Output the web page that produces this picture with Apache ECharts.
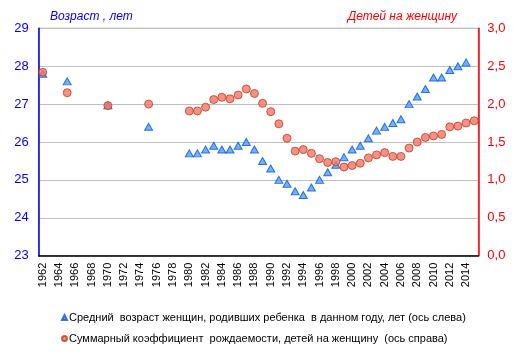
<!DOCTYPE html>
<html>
<head>
<meta charset="utf-8">
<script src="https://cdn.jsdelivr.net/npm/echarts@6/dist/echarts.min.js"></script>
<style>html,body{margin:0;padding:0;background:#fff;}#c{width:514px;height:355px;}</style>
</head>
<body>
<div id="c"></div>
<script>
const years = [];
for (let y = 1962; y <= 2015; y++) years.push(String(y));

// Values keyed by year
const ageYears = [1962,1965,1970,1975,1980,1981,1982,1983,1984,1985,1986,1987,1988,1989,1990,1991,1992,1993,1994,1995,1996,1997,1998,1999,2000,2001,2002,2003,2004,2005,2006,2007,2008,2009,2010,2011,2012,2013,2014];
const ageValues = [27.8,27.6,26.97,26.4,25.7,25.7,25.8,25.9,25.8,25.8,25.9,26.0,25.8,25.5,25.3,25.0,24.9,24.7,24.6,24.8,25.0,25.2,25.4,25.6,25.8,25.9,26.1,26.3,26.4,26.5,26.6,27.0,27.2,27.4,27.7,27.7,27.9,28.0,28.1];

const tfrYears = [1962,1965,1970,1975,1980,1981,1982,1983,1984,1985,1986,1987,1988,1989,1990,1991,1992,1993,1994,1995,1996,1997,1998,1999,2000,2001,2002,2003,2004,2005,2006,2007,2008,2009,2010,2011,2012,2013,2014,2015];
const tfrValues = [2.42,2.15,1.98,2.00,1.91,1.91,1.96,2.06,2.09,2.07,2.12,2.20,2.14,2.01,1.90,1.74,1.55,1.38,1.40,1.35,1.28,1.23,1.24,1.17,1.19,1.22,1.29,1.33,1.36,1.31,1.31,1.42,1.50,1.56,1.58,1.60,1.70,1.71,1.75,1.78];

const leftTicks = [23,24,25,26,27,28,29];
const rightTicks = ['0,0','0,5','1,0','1,5','2,0','2,5','3,0'];

const seriesNames = [
  'Средний  возраст женщин, родивших ребенка  в данном году, лет (ось слева)',
  'Суммарный коэффициент  рождаемости, детей на женщину  (ось справа)'
];
const axisTitles = ['Возраст , лет', 'Детей на женщину'];

const ageData = ageYears.map((y, i) => [String(y), ageValues[i]]);
const tfrData = tfrYears.map((y, i) => [String(y), tfrValues[i]]);

const FONT = '"Liberation Sans", Arial, sans-serif';
const chart = echarts.init(document.getElementById('c'), null, {renderer: 'canvas'});
chart.setOption({
  animation: false,
  backgroundColor: '#fff',
  textStyle: {fontFamily: FONT},
  grid: {left: 38.7, right: 35.7, top: 28.3, bottom: 99.3, show: true, borderColor: '#8c8c8c', borderWidth: 1},
  xAxis: {
    type: 'category',
    data: years,
    boundaryGap: true,
    axisLine: {lineStyle: {color: '#000', width: 1.5}},
    axisTick: {show: false},
    axisLabel: {interval: 1, rotate: 90, margin: 7, color: '#000', fontSize: 11, fontFamily: FONT}
  },
  yAxis: [
    {
      type: 'value', min: 23, max: 29, interval: 1, position: 'left',
      axisLine: {show: true, lineStyle: {color: '#0000ff', width: 1.5}},
      axisTick: {show: false},
      axisLabel: {color: '#0000ff', fontSize: 13, margin: 10, fontFamily: FONT,
        formatter: v => leftTicks.includes(v) ? String(v) : ''},
      splitLine: {show: true, lineStyle: {color: '#c0c0c0', width: 1}}
    },
    {
      type: 'value', min: 0, max: 3, interval: 0.5, position: 'right',
      axisLine: {show: true, lineStyle: {color: '#ff0000', width: 1.5}},
      axisTick: {show: false},
      axisLabel: {color: '#ff0000', fontSize: 13, margin: 9, fontFamily: FONT,
        formatter: v => rightTicks[Math.round(v / 0.5)]},
      splitLine: {show: false}
    }
  ],
  legend: {
    orient: 'vertical',
    left: 56, top: 306,
    itemWidth: 5, itemHeight: 5, itemGap: 8,
    textStyle: {fontSize: 11, color: '#000', fontFamily: FONT, lineHeight: 13, padding: [0,0,0,-3]},
    data: seriesNames
  },
  graphic: [
    {type: 'text', left: 50, top: 11, style: {text: axisTitles[0], fill: '#0000ff', font: 'italic 12px ' + FONT}},
    {type: 'text', right: 57, top: 11, style: {text: axisTitles[1], fill: '#ff0000', font: 'italic 12px ' + FONT}}
  ],
  series: [
    {
      name: seriesNames[0], type: 'scatter', yAxisIndex: 0,
      symbol: 'triangle', symbolSize: [8, 7],
      itemStyle: {color: '#4aa0ff', borderColor: '#0a55d8', borderWidth: 1},
      data: ageData, z: 2
    },
    {
      name: seriesNames[1], type: 'scatter', yAxisIndex: 1,
      symbol: 'circle', symbolSize: 8,
      itemStyle: {color: '#f47468', borderColor: '#c0401e', borderWidth: 1},
      data: tfrData, z: 3
    }
  ]
});
</script>
</body>
</html>
